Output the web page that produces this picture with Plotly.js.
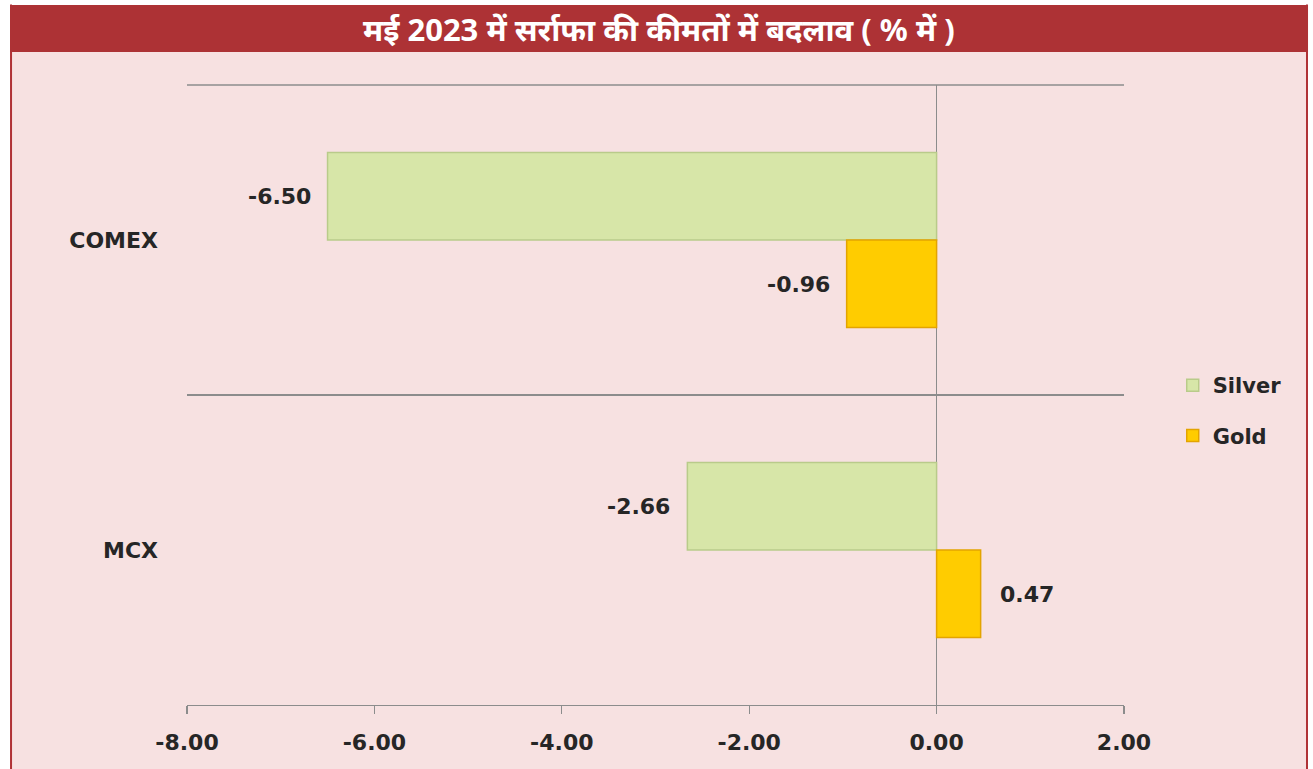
<!DOCTYPE html>
<html>
<head>
<meta charset="utf-8">
<script src="https://cdn.plot.ly/plotly-3.0.1.min.js"></script>
<style>html,body{margin:0;padding:0;background:#fff;}#chart{width:1313px;height:769px;}</style>
</head>
<body>
<div id="chart"></div>
<script>
const categories = ["COMEX", "MCX"];
const silverValues = [-6.50, -2.66];
const goldValues = [-0.96, 0.47];
const seriesNames = ["Silver", "Gold"];
const xTickValues = [-8, -6, -4, -2, 0, 2];
const xTickLabels = ["-8.00", "-6.00", "-4.00", "-2.00", "0.00", "2.00"];
const titleText = "मई 2023 में सर्राफा की कीमतों में बदलाव ( % में )";

const FONT = "'DejaVu Sans', 'Open Sans', sans-serif";
const labelFont = {family: FONT, size: 22, color: "#262626", weight: "bold"};

const traces = [
  {
    type: "bar", orientation: "h", name: seriesNames[0],
    y: categories, x: silverValues,
    marker: {color: "#d7e6a8", line: {color: "#b9cb8a", width: 1.5}},
    legendgroup: "s", hoverinfo: "x+y"
  },
  {
    type: "bar", orientation: "h", name: seriesNames[1],
    y: categories, x: goldValues,
    marker: {color: "#ffcc00", line: {color: "#e3a400", width: 1.5}},
    legendgroup: "g", hoverinfo: "x+y"
  }
];

function valueLabels(values, yshift) {
  return values.map((v, i) => ({
    xref: "x", yref: "y", x: v, y: categories[i],
    text: v.toFixed(2), showarrow: false,
    xanchor: v < 0 ? "right" : "left", xshift: v < 0 ? -15 : 17,
    yanchor: "middle", yshift: yshift, font: labelFont
  }));
}

const layout = {
  width: 1313, height: 769,
  margin: {l: 187, r: 189, t: 85, b: 64, pad: 0},
  paper_bgcolor: "#ffffff",
  plot_bgcolor: "rgba(0,0,0,0)",
  barmode: "group", bargap: 0.435, bargroupgap: 0,
  showlegend: true,
  legend: {
    x: 1.052, xanchor: "left", y: 0.475, yanchor: "middle",
    bgcolor: "rgba(0,0,0,0)", traceorder: "grouped", tracegroupgap: 20,
    font: {family: FONT, size: 21, color: "#262626", weight: "bold"},
    itemwidth: 30
  },
  xaxis: {
    range: [-8, 2], tickvals: xTickValues, ticktext: xTickLabels,
    showgrid: false, zeroline: true, zerolinecolor: "#8c8c8c", zerolinewidth: 1.3,
    showline: true, linecolor: "#8c8c8c", linewidth: 1.3,
    ticks: "outside", ticklen: 8, tickcolor: "#8c8c8c", tickwidth: 1.3,
    ticklabelstandoff: 9,
    tickfont: {family: FONT, size: 22, color: "#262626", weight: "bold"},
    fixedrange: true
  },
  yaxis: {
    type: "category", categoryorder: "array", categoryarray: categories,
    range: [1.5, -0.5], tickson: "boundaries",
    showgrid: true, gridcolor: "#8c8c8c", gridwidth: 1.3,
    showline: false, ticks: "", ticklabelstandoff: 28,
    tickfont: {family: FONT, size: 22, color: "#262626", weight: "bold"},
    fixedrange: true
  },
  shapes: [
    {type: "rect", xref: "paper", yref: "paper", layer: "below",
     x0: -0.1889, x1: 1.1964, y0: -0.11, y1: 1.0532,
     fillcolor: "#f7e1e1", line: {width: 0}},
    {type: "line", xref: "paper", yref: "paper", layer: "below",
     x0: -0.1878, x1: -0.1878, y0: -0.11, y1: 1.13,
     line: {color: "#b03236", width: 2}},
    {type: "line", xref: "paper", yref: "paper", layer: "below",
     x0: 1.1953, x1: 1.1953, y0: -0.11, y1: 1.13,
     line: {color: "#b03236", width: 2}},
    {type: "rect", xref: "paper", yref: "paper", layer: "below",
     x0: -0.1889, x1: 1.1964, y0: 1.0532, y1: 1.129,
     fillcolor: "#ad3235", line: {width: 0}},
    {type: "line", xref: "paper", yref: "paper", layer: "below",
     x0: 0, x1: 1, y0: 1, y1: 1,
     line: {color: "#8c8c8c", width: 1.3}}
  ],
  annotations: [
    {text: titleText, xref: "paper", yref: "paper", x: 0.5037, y: 1.0905,
     xanchor: "center", yanchor: "middle", showarrow: false,
     font: {family: "'Noto Sans', 'Noto Sans Devanagari', sans-serif", size: 31, color: "#ffffff", weight: "bold"}}
  ].concat(valueLabels(silverValues, 44), valueLabels(goldValues, -44))
};

Plotly.newPlot("chart", traces, layout, {displayModeBar: false, staticPlot: true});
</script>
</body>
</html>
